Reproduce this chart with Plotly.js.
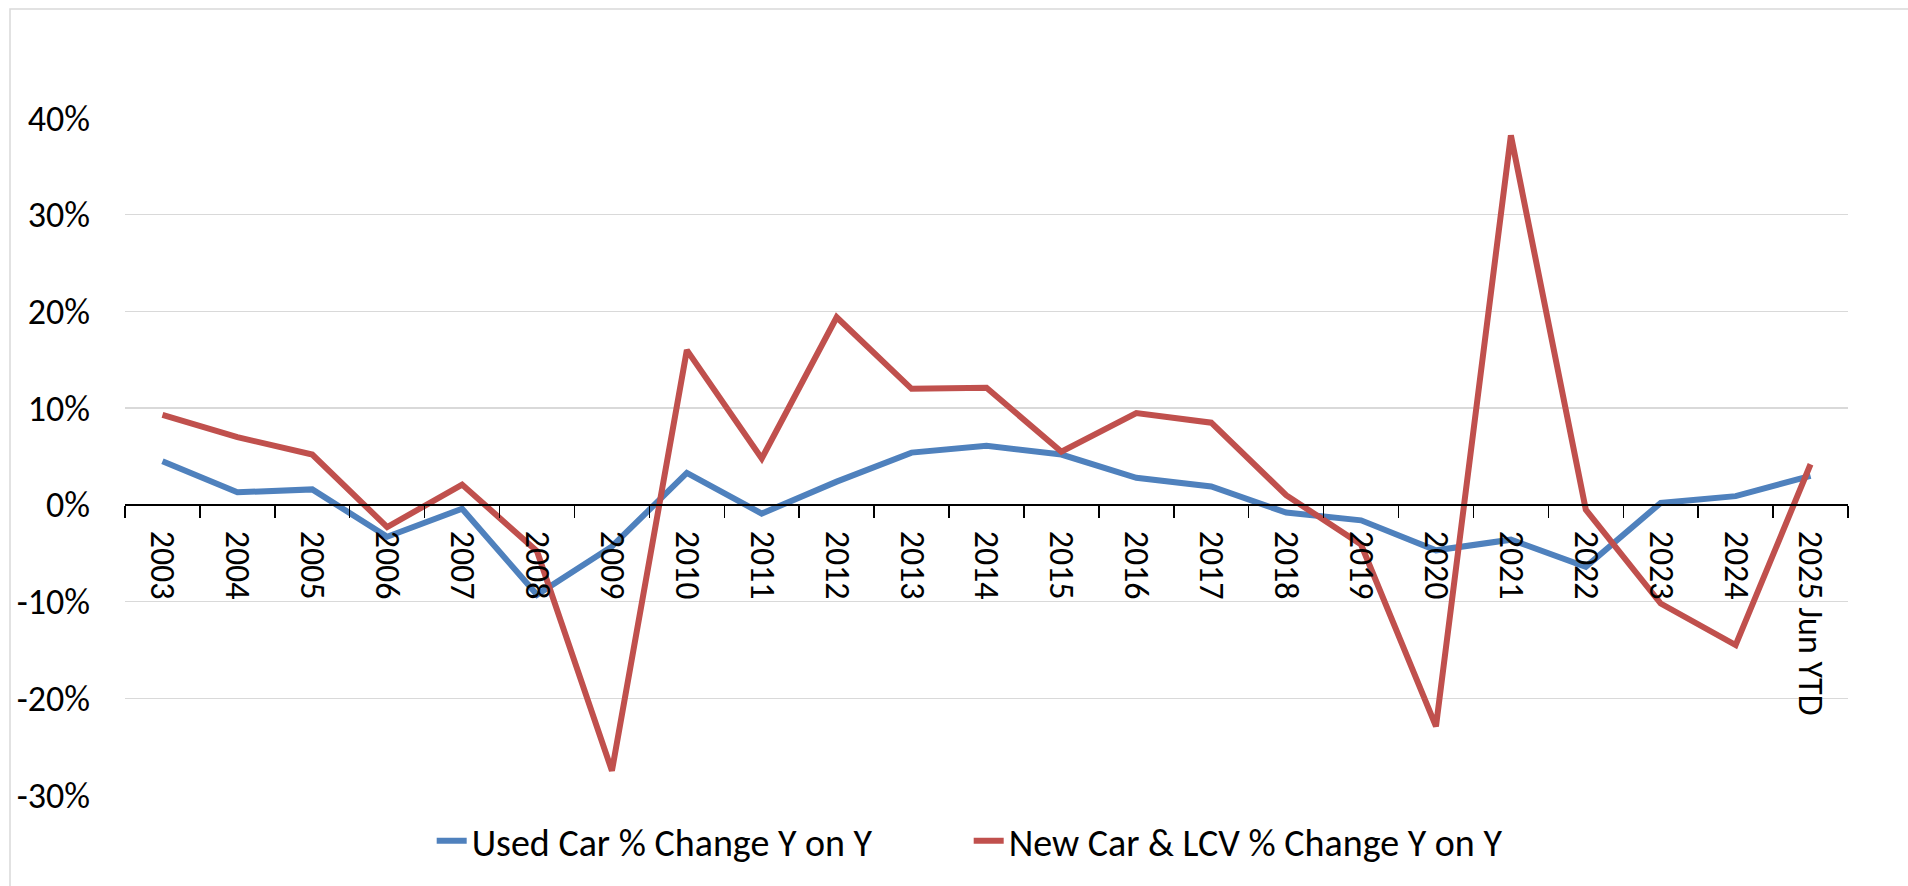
<!DOCTYPE html>
<html>
<head>
<meta charset="utf-8">
<script src="https://cdn.plot.ly/plotly-3.0.1.min.js"></script>
<style>
  html, body { margin: 0; padding: 0; background: #ffffff; }
  #chart { width: 1908px; height: 886px; }
</style>
</head>
<body>
<div id="chart"></div>
<script>
const categories = ["2003","2004","2005","2006","2007","2008","2009","2010","2011","2012","2013","2014","2015","2016","2017","2018","2019","2020","2021","2022","2023","2024","2025 Jun YTD"];
const usedCarChange = [4.5, 1.3, 1.6, -3.3, -0.4, -9.3, -4.3, 3.3, -0.9, 2.4, 5.4, 6.1, 5.2, 2.8, 1.9, -0.8, -1.6, -4.7, -3.6, -6.4, 0.2, 0.9, 3.0];
const newCarLcvChange = [9.3, 7.0, 5.2, -2.3, 2.1, -4.8, -27.5, 16.0, 4.8, 19.4, 12.0, 12.1, 5.5, 9.5, 8.5, 1.0, -4.1, -22.9, 38.2, -0.5, -10.2, -14.5, 4.2];
const seriesNames = ["Used Car % Change Y on Y", "New Car & LCV % Change Y on Y"];
const yTickValues = [-30, -20, -10, 0, 10, 20, 30, 40];
const yTickLabels = ["-30%", "-20%", "-10%", "0%", "10%", "20%", "30%", "40%"];

const FONT = "Carlito, Calibri, Lato, 'Open Sans', sans-serif";
const yMin = -30, yMax = 40;

const traces = [
  {
    x: categories, y: usedCarChange, name: seriesNames[0],
    type: "scatter", mode: "lines",
    line: { color: "#4f81bd", width: 6 }
  },
  {
    x: categories, y: newCarLcvChange, name: seriesNames[1],
    type: "scatter", mode: "lines",
    line: { color: "#c0504d", width: 6 }
  }
];

const layout = {
  width: 1908, height: 886,
  margin: { l: 125, r: 60, t: 118, b: 91 },
  paper_bgcolor: "#ffffff", plot_bgcolor: "#ffffff",
  font: { family: FONT, size: 33, color: "#000000" },
  showlegend: true,
  legend: {
    orientation: "h",
    x: 0.178, xanchor: "left",
    y: -0.068, yanchor: "middle",
    font: { family: FONT, size: 38, color: "#000000" },
    entrywidth: 492, entrywidthmode: "pixels",
    bgcolor: "rgba(0,0,0,0)"
  },
  xaxis: {
    type: "category",
    range: [-0.5, categories.length - 0.5],
    anchor: "free",
    position: (0 - yMin) / (yMax - yMin),
    showline: true, linecolor: "#000000", linewidth: 2,
    showgrid: false, zeroline: false,
    ticks: "outside", tickson: "boundaries", ticklen: 12, tickwidth: 1.5, tickcolor: "#000000",
    tickangle: 90,
    ticklabelstandoff: 18,
    tickfont: { family: FONT, size: 34, color: "#000000" },
    fixedrange: true
  },
  yaxis: {
    range: [yMin, yMax],
    tickvals: yTickValues, ticktext: yTickLabels,
    showline: false, zeroline: false,
    showgrid: true, gridcolor: "#d9d9d9", gridwidth: 1.5,
    ticks: "", ticklabelstandoff: 34,
    tickfont: { family: FONT, size: 36, color: "#000000" },
    fixedrange: true
  },
  shapes: [
    {
      type: "rect", xref: "paper", yref: "paper",
      x0: (10 - 125) / 1723, x1: 1.2,
      y0: -0.3, y1: (795 - 9) / 677,
      line: { color: "#d9d9d9", width: 1.5 },
      fillcolor: "rgba(0,0,0,0)",
      layer: "below"
    }
  ]
};

Plotly.newPlot("chart", traces, layout, { staticPlot: true, displayModeBar: false });
</script>
</body>
</html>
